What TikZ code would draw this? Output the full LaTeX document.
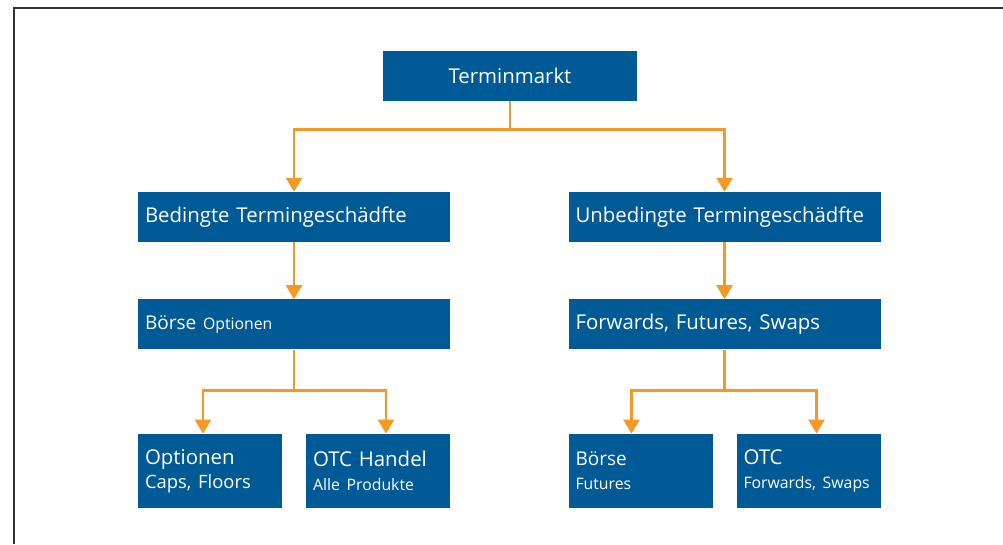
\documentclass[tikz,border=0pt]{standalone}
\usepackage{fontspec}
\setmainfont{Open Sans}
\usepackage{xcolor}
\usepackage{tikz}
\usetikzlibrary{positioning, arrows.meta}

\definecolor{MarktBlue}{RGB}{0,90,150}
\definecolor{MarktOrange}{RGB}{245,152,36}
\definecolor{FrameGray}{RGB}{50,50,50}
\newcommand{\HeadFont}{\fontsize{20.4}{24}\selectfont}
\newcommand{\SubFont}{\fontsize{15.8}{24}\selectfont}

\begin{document}
\begin{tikzpicture}[x=1pt, y=-1pt,
				BoxNode/.style={rectangle, fill=MarktBlue, text=white, inner sep=0pt, minimum height=50pt, font=\HeadFont},
				WideNode/.style={BoxNode, minimum width=312pt, text width=298pt, align=left},
				SmallNode/.style={BoxNode, minimum width=144pt, minimum height=74pt, text width=130pt, align=left},
				Link/.style={MarktOrange, line width=2.7pt},
				LinkArrow/.style={Link, -{Triangle[width=16pt, length=14pt]}}]

			\useasboundingbox (0,0) rectangle (1003,544);

			% Frame
			\draw[FrameGray, line width=2pt] (13.8,544) -- (13.8,8) -- (1003,8);

			% Nodes
			\node[BoxNode, minimum width=254pt] (Terminmarkt) at (510,76) {Terminmarkt};

			\node[WideNode] (Bedingt) at (294,217) {Bedingte Termingeschädfte};
			\node[WideNode] (Unbedingt) at (724.5,217) {Unbedingte Termingeschädfte};

			\node[WideNode, below=57pt of Bedingt] (BoerseOpt) {{\fontsize{19}{24}\selectfont Börse} {\SubFont Optionen}};
			\node[WideNode, below=57pt of Unbedingt] (Forwards) {Forwards, Futures, Swaps};

			\node[SmallNode, below=84pt of BoerseOpt.south west, anchor=north west] (Optionen) {Optionen\\{\fontsize{18.4}{24}\selectfont Caps, Floors}};
			\node[SmallNode, below=84pt of BoerseOpt.south east, anchor=north east] (OTCHandel) {OTC Handel\\{\SubFont Alle Produkte}};
			\node[SmallNode, below=84pt of Forwards.south west, anchor=north west] (BoerseFut) {{\fontsize{19}{24}\selectfont Börse}\\{\SubFont Futures}};
			\node[SmallNode, below=84pt of Forwards.south east, anchor=north east] (OTC) {OTC\\{\SubFont Forwards, Swaps}};

			% Split points
			\coordinate[below=28pt of Terminmarkt.south] (SplitTop);
			\coordinate[below=41pt of BoerseOpt.south] (SplitOpt);
			\coordinate[below=41pt of Forwards.south] (SplitFwd);

			% Lines
			\draw[LinkArrow] (Terminmarkt.south) -- (SplitTop) -| (Bedingt.north);
			\draw[LinkArrow] (Terminmarkt.south) -- (SplitTop) -| (Unbedingt.north);

			\draw[LinkArrow] (Bedingt) -- (BoerseOpt);
			\draw[LinkArrow] (Unbedingt) -- (Forwards);

			\draw[LinkArrow] (BoerseOpt.south) -- (SplitOpt) -| ([xshift=-7pt]Optionen.north);
			\draw[LinkArrow] (BoerseOpt.south) -- (SplitOpt) -| ([xshift=8pt]OTCHandel.north);
			\draw[LinkArrow] (Forwards.south) -- (SplitFwd) -| ([xshift=-9pt]BoerseFut.north);
			\draw[LinkArrow] (Forwards.south) -- (SplitFwd) -| ([xshift=8pt]OTC.north);
		\end{tikzpicture}
\end{document}
